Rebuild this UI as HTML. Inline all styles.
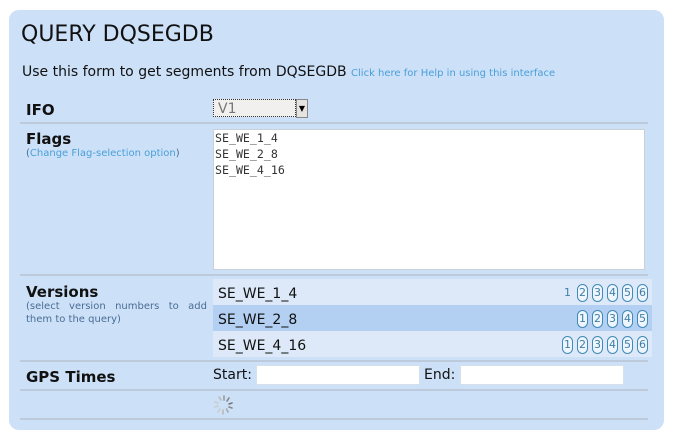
<!DOCTYPE html>
<html><head><style>
body{margin:0;width:673px;height:438px;background:#fff;font-family:"DejaVu Sans","Liberation Sans",sans-serif;position:relative;overflow:hidden}
.a{position:absolute;white-space:nowrap}
.panel{position:absolute;left:9px;top:10px;width:655px;height:420px;background:#cce0f8;border-radius:10px}
.sep{position:absolute;left:20px;width:628px;height:2px;background:#bccadb}
.lbl{font-weight:bold;font-size:15px;color:#111}
.vrow{position:absolute;left:213px;width:439px;height:26px;font-size:14px;color:#111}
.vrow span.t{position:absolute;left:5px;top:7px}
.b{position:absolute;width:9px;height:16px;border:1px solid #3f8ab8;border-radius:6px;font-size:11px;color:#3f7fa8;text-align:center;line-height:16px;background:#eef5fc}
.inp{position:absolute;background:#fff;border:1px solid #d6e0ea;height:18px}
</style></head><body>
<div class="panel"></div>
<div class="a" style="left:21px;top:22px;font-size:22px;color:#111">QUERY DQSEGDB</div>
<div class="a" style="left:22px;top:64px;font-size:14px;color:#111">Use this form to get segments from DQSEGDB <span style="font-size:10px;color:#4a9fd8">Click here for Help in using this interface</span></div>
<div class="a lbl" style="left:26px;top:101px">IFO</div>
<div class="a" style="left:213px;top:99px;height:18px;background:#f1f0ee;border:1px dotted #333;font-size:14px;color:#777;line-height:18px;padding-left:4px;box-sizing:border-box;width:83px">V1</div>
<div class="a" style="left:296px;top:99px;width:12px;height:19px;background:#e6e4e0;border:1px solid #888;box-sizing:border-box;font-size:8px;text-align:center;line-height:18px">▼</div>
<div class="sep" style="top:122px"></div>
<div class="a lbl" style="left:26px;top:130px">Flags</div>
<div class="a" style="left:26px;top:148px;font-size:10px;color:#4a6d94">(<span style="color:#4a9fd8">Change Flag-selection option</span>)</div>
<div class="a" style="left:213px;top:129px;width:432px;height:141px;background:#fff;border:1px solid #c8d0d8;box-sizing:border-box;font-family:'DejaVu Sans Mono','Liberation Mono',monospace;font-size:11.6px;color:#333;line-height:16px;padding:0 1px;white-space:pre">SE_WE_1_4
SE_WE_2_8
SE_WE_4_16</div>
<div class="sep" style="top:274px"></div>
<div class="a lbl" style="left:26px;top:283px">Versions</div>
<div class="a" style="left:26px;top:300px;font-size:10px;color:#4a6d94;line-height:13px;white-space:normal;width:181px;text-align:justify;text-align-last:left">(select version numbers to add them to the query)</div>
<div class="vrow" style="top:279px;background:#dde9f8"><span class="t">SE_WE_1_4</span></div>
<div class="vrow" style="top:305px;background:#b3d0f3"><span class="t">SE_WE_2_8</span></div>
<div class="vrow" style="top:331px;background:#dde9f8"><span class="t">SE_WE_4_16</span></div>
<div class="a" style="left:564px;top:286px;font-size:11px;color:#3f7fa8">1</div>
<div class="b" style="left:577px;top:284px">2</div><div class="b" style="left:592px;top:284px">3</div><div class="b" style="left:607px;top:284px">4</div><div class="b" style="left:622px;top:284px">5</div><div class="b" style="left:637px;top:284px">6</div>
<div class="b" style="left:577px;top:310px">1</div><div class="b" style="left:592px;top:310px">2</div><div class="b" style="left:607px;top:310px">3</div><div class="b" style="left:622px;top:310px">4</div><div class="b" style="left:637px;top:310px">5</div>
<div class="b" style="left:562px;top:336px">1</div><div class="b" style="left:577px;top:336px">2</div><div class="b" style="left:592px;top:336px">3</div><div class="b" style="left:607px;top:336px">4</div><div class="b" style="left:622px;top:336px">5</div><div class="b" style="left:637px;top:336px">6</div>
<div class="sep" style="top:360px"></div>
<div class="a lbl" style="left:26px;top:368px">GPS Times</div>
<div class="a" style="left:213px;top:367px;font-size:14px;color:#111">Start:</div>
<div class="inp" style="left:256px;top:365px;width:162px"></div>
<div class="a" style="left:424px;top:367px;font-size:14px;color:#111">End:</div>
<div class="inp" style="left:460px;top:365px;width:162px"></div>
<div class="sep" style="top:389px"></div>
<svg class="a" style="left:212px;top:394px" width="24" height="22" viewBox="0 0 24 22">
<g stroke-width="1.6" stroke-linecap="round">
<line x1="12" y1="2" x2="12" y2="6" stroke="#999"/>
<line x1="17" y1="4" x2="15" y2="7" stroke="#888"/>
<line x1="20" y1="9" x2="17" y2="10" stroke="#777"/>
<line x1="20" y1="14" x2="17" y2="13" stroke="#888"/>
<line x1="16" y1="18" x2="14.5" y2="15" stroke="#aaa"/>
<line x1="11" y1="20" x2="11" y2="16" stroke="#bbb"/>
<line x1="6" y1="18" x2="8" y2="15" stroke="#ccc"/>
<line x1="3" y1="13" x2="6" y2="12" stroke="#ccc"/>
<line x1="3" y1="8" x2="6" y2="9" stroke="#ccc"/>
<line x1="7" y1="3" x2="9" y2="6" stroke="#bbb"/>
</g></svg>
<div class="sep" style="top:418px"></div>
</body></html>
